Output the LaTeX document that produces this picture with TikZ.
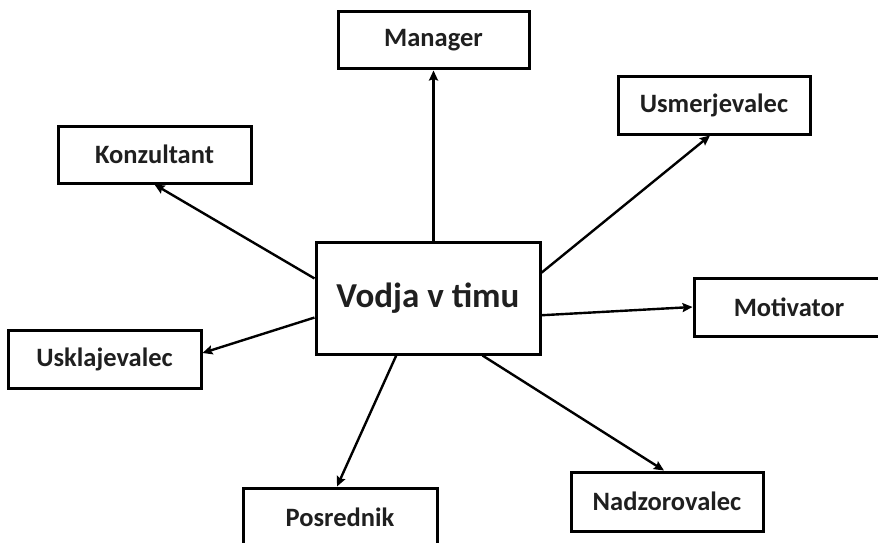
\documentclass[tikz,border=0pt]{standalone}
\usepackage{fontspec}
\setmainfont{Carlito}
\usetikzlibrary{arrows.meta,calc}
\tikzset{
  rolebox/.style={draw=black, line width=3pt, fill=white, inner sep=0pt,
    font=\fontsize{26.5}{30}\selectfont\bfseries, text=black!88},
  mainbox/.style={rolebox, font=\fontsize{35}{40}\selectfont\bfseries},
  link/.style={line width=2.4pt, -{Stealth[length=10pt,width=9pt,inset=1.5pt]}}
}
\begin{document}
\begin{tikzpicture}[x=1pt,y=1pt]
\clip (0,0) rectangle (878,-543);
\fill[white] (0,0) rectangle (878,-543);
\node[mainbox, minimum width=224pt, minimum height=112pt] (vodja) at (428,-298) {Vodja v timu};
\node[rolebox, minimum width=191pt, minimum height=57pt] (manager) at (433.5,-40.5) {Manager};
\node[rolebox, minimum width=192pt, minimum height=57pt] (usm) at (714,-105.5) {Usmerjevalec};
\node[rolebox, minimum width=193pt, minimum height=57pt] (konz) at (154.5,-154.5) {Konzultant};
\node[rolebox, minimum width=190pt, minimum height=58pt] (mot) at (789,-307) {Motivator};
\node[rolebox, minimum width=193pt, minimum height=58pt] (usk) at (104.5,-359) {Usklajevalec};
\node[rolebox, minimum width=192pt, minimum height=59pt] (nad) at (667,-501.5) {Nadzorovalec};
\node[rolebox, minimum width=194pt, minimum height=58pt] (pos) at (340,-517) {Posrednik};

\draw[link] (manager.south |- vodja.north) -- (manager.south);
\draw[link] ($(vodja.north west)!0.33!(vodja.south west)$) -- (konz.south);
\draw[link] ($(vodja.north east)!0.28!(vodja.south east)$) -- ($(usm.south)+(-4,0)$);
\draw[link] ($(vodja.north east)!0.65!(vodja.south east)$) -- (mot.west);
\draw[link] ($(vodja.north west)!0.67!(vodja.south west)$) -- ($(usk.east)+(0,6)$);
\draw[link] ($(vodja.south west)!0.36!(vodja.south east)$) -- ($(pos.north)+(-3,0)$);
\draw[link] ($(vodja.south west)!0.74!(vodja.south east)$) -- ($(nad.north)+(-3,0)$);
\end{tikzpicture}
\end{document}
